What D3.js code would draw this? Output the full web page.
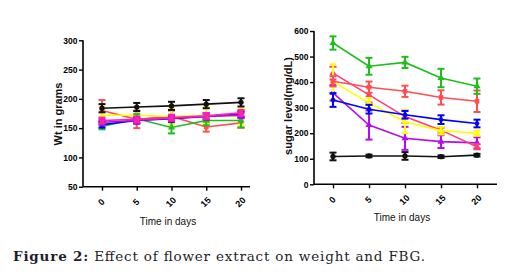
<!DOCTYPE html>
<html><head><meta charset="utf-8">
<script src="https://cdn.jsdelivr.net/npm/d3@7"></script>
<style>html,body{margin:0;padding:0;background:#fff;}svg{display:block;}</style>
</head><body>
<script>
// ---- data ----
const days = [0, 5, 10, 15, 20];
const weightTicks = [50, 100, 150, 200, 250, 300];
const sugarTicks = [0, 100, 200, 300, 400, 500, 600];

// weight (g) - mean and error
const wtBlack = [184, 186, 188, 191, 194];   const wtBlackErr = [7, 7, 7, 7, 7];
const wtRed = [180, 165, 170, 152, 159];     const wtRedErr = [18, 15, 10, 8, 8];
const wtYellow = [172, 172, 170, 172, 170];  const wtYellowErr = [14, 14, 14, 14, 14];
const wtGreen = [153, 166, 151, 163, 163];   const wtGreenErr = [5, 8, 10, 8, 12];
const wtBlue = [156, 163, 166, 170, 174];    const wtBlueErr = [5, 5, 5, 5, 5];
const wtMagenta = [163, 165, 168, 171, 176]; const wtMagentaErr = [5, 5, 5, 5, 5];
const wtPurple = [160, 163, 167, 170, 172];  const wtPurpleErr = [5, 5, 5, 5, 5];

// sugar level (mg/dL) - mean and error
const sgGreen = [553, 462, 477, 416, 384];   const sgGreenErr = [26, 33, 22, 36, 30];
const sgRed = [403, 380, 364, 340, 325];     const sgRedErr = [20, 22, 22, 28, 42];
const sgYellow = [402, 318, 245, 210, 200];  const sgYellowErr = [68, 20, 45, 15, 10];
const sgBlue = [330, 294, 272, 253, 238];    const sgBlueErr = [27, 17, 15, 17, 15];
const sgPink = [435, 350, 265, 212, 147];    const sgPinkErr = [25, 30, 25, 10, 10];
const sgPurple = [358, 232, 180, 167, 162];  const sgPurpleErr = [30, 57, 45, 25, 22];
const sgBlack = [109, 111, 111, 108, 114];   const sgBlackErr = [15, 5, 15, 5, 5];

const C = {black:"#111111", red:"#ff4f4f", yellow:"#ffff00", green:"#1cbf1c", blue:"#0000ff",
           magenta:"#ff1fb4", pink:"#ff3c7d", purple:"#b40cf0"};

const wtSeries = [
  {v: wtRed, e: wtRedErr, c: C.red, s: d3.symbolSquare},
  {v: wtYellow, e: wtYellowErr, c: C.yellow, s: d3.symbolTriangle},
  {v: wtGreen, e: wtGreenErr, c: C.green, s: d3.symbolTriangle},
  {v: wtBlue, e: wtBlueErr, c: C.blue, s: d3.symbolDiamond},
  {v: wtPurple, e: wtPurpleErr, c: C.purple, s: d3.symbolTriangle},
  {v: wtMagenta, e: wtMagentaErr, c: C.magenta, s: d3.symbolSquare},
  {v: wtBlack, e: wtBlackErr, c: C.black, s: d3.symbolCircle}
];
const sgSeries = [
  {v: sgBlack, e: sgBlackErr, c: C.black, s: d3.symbolCircle},
  {v: sgPurple, e: sgPurpleErr, c: C.purple, s: d3.symbolTriangle},
  {v: sgPink, e: sgPinkErr, c: C.pink, s: d3.symbolTriangle},
  {v: sgYellow, e: sgYellowErr, c: C.yellow, s: d3.symbolTriangle},
  {v: sgBlue, e: sgBlueErr, c: C.blue, s: d3.symbolDiamond},
  {v: sgRed, e: sgRedErr, c: C.red, s: d3.symbolSquare},
  {v: sgGreen, e: sgGreenErr, c: C.green, s: d3.symbolTriangle}
];

const svg = d3.select("body").append("svg").attr("width", 519).attr("height", 280);
const FONT = "Liberation Sans, Arial, sans-serif";

function panel(cfg) {
  const x = d3.scaleLinear().domain([0, 20]).range(cfg.xr);
  const y = d3.scaleLinear().domain(cfg.yd).range(cfg.yr);
  const g = svg.append("g");

  // y axis
  const ya = g.append("g").attr("transform", `translate(${cfg.axisX},0)`)
    .call(d3.axisLeft(y).tickValues(cfg.yTicks).tickSize(4).tickPadding(1.5));
  ya.select(".domain").attr("d", `M0,${cfg.yr[1]}V${cfg.axisY}`).attr("stroke", "#000").attr("stroke-width", 1.6);
  ya.selectAll(".tick line").attr("stroke", "#000").attr("stroke-width", 1.4);
  ya.selectAll(".tick text").attr("font-family", FONT).attr("font-weight", "bold").attr("font-size", 8.5).attr("fill", "#000");

  // x axis
  const xa = g.append("g").attr("transform", `translate(0,${cfg.axisY})`)
    .call(d3.axisBottom(x).tickValues(days).tickSize(4).tickFormat(d3.format("d")));
  xa.select(".domain").attr("d", `M${cfg.axisX},0H${cfg.axisEnd}`).attr("stroke", "#000").attr("stroke-width", 1.6);
  xa.selectAll(".tick line").attr("stroke", "#000").attr("stroke-width", 1.4);
  xa.selectAll(".tick text")
    .attr("font-family", FONT).attr("font-weight", "bold").attr("font-size", 9).attr("fill", "#000")
    .attr("text-anchor", "middle").attr("dominant-baseline", "central")
    .attr("x", 0).attr("y", 0).attr("dy", null)
    .attr("transform", "translate(-1,15.5) rotate(-45)");

  // titles
  g.append("text").attr("x", cfg.xtX).attr("y", cfg.xtY).attr("text-anchor", "middle")
    .attr("font-family", FONT).attr("font-size", 10).attr("fill", "#111").text("Time in days");
  g.append("text").attr("transform", `translate(${cfg.ytX},${cfg.ytY}) rotate(-90)`)
    .attr("text-anchor", "middle").attr("font-family", FONT).attr("font-weight", "bold")
    .attr("font-size", 11).attr("fill", "#111").text(cfg.yTitle);

  const line = d3.line().x((d, i) => x(days[i])).y(d => y(d));
  cfg.series.forEach(s => {
    const sg = g.append("g");
    sg.append("path").attr("d", line(s.v)).attr("fill", "none").attr("stroke", s.c).attr("stroke-width", 1.6);
    s.v.forEach((v, i) => {
      const cx = x(days[i]);
      const y1 = y(v + s.e[i]), y0 = y(v - s.e[i]);
      sg.append("line").attr("x1", cx).attr("x2", cx).attr("y1", y1).attr("y2", y0).attr("stroke", s.c).attr("stroke-width", 2);
      [y1, y0].forEach(yy => sg.append("line").attr("x1", cx - 3.5).attr("x2", cx + 3.5).attr("y1", yy).attr("y2", yy)
        .attr("stroke", s.c).attr("stroke-width", 2));
      sg.append("path").attr("d", d3.symbol().type(s.s).size(22)()).attr("transform", `translate(${cx},${y(v)})`).attr("fill", s.c);
    });
  });
}

panel({xr: [102, 241], yd: [50, 300], yr: [186.7, 40.3], axisX: 83, axisY: 186.7, axisEnd: 250,
       yTicks: weightTicks, series: wtSeries, xtX: 168, xtY: 225, ytX: 62, ytY: 114, yTitle: "Wt in grams"});
panel({xr: [333, 477], yd: [0, 600], yr: [184.3, 31], axisX: 314, axisY: 184.3, axisEnd: 497,
       yTicks: sugarTicks, series: sgSeries, xtX: 402, xtY: 221, ytX: 292, ytY: 106, yTitle: "sugar level(mg/dL)"});

// caption
const cap = svg.append("text").attr("x", 13).attr("y", 261)
  .attr("font-family", "DejaVu Serif, serif").attr("font-size", 13.5).attr("fill", "#1e1e2a")
  .attr("textLength", 412).attr("lengthAdjust", "spacing");
cap.append("tspan").attr("font-weight", "bold").text("Figure 2:");
cap.append("tspan").text(" Effect of flower extract on weight and FBG.");
</script>
</body></html>
